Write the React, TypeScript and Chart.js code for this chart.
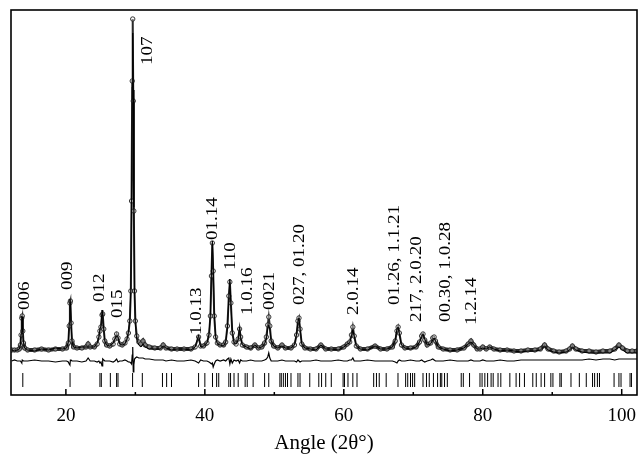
import React, { useEffect, useRef } from "react";
import { Chart, registerables } from "chart.js";

Chart.register(...registerables);

// 2θ positions of the measured profile (degrees)
const angles = [
  12.2, 12.6, 13.0, 13.3, 13.45, 13.55, 13.65, 13.72, 13.8, 13.9,
  14.05, 14.5, 15.5, 16.5, 17.5, 18.5, 19.5, 20.1, 20.35, 20.48,
  20.58, 20.65, 20.75, 20.88, 21.1, 21.6, 22.3, 22.9, 23.2, 23.5,
  24.1, 24.5, 24.75, 24.9, 25.05, 25.2, 25.3, 25.45, 25.6, 25.85,
  26.3, 26.8, 27.05, 27.3, 27.5, 27.75, 28.1, 28.5, 28.8, 29.0,
  29.2, 29.35, 29.45, 29.55, 29.62, 29.7, 29.78, 29.88, 30.0, 30.2,
  30.5, 30.8, 31.1, 31.4, 32.0, 32.8, 33.6, 34.0, 34.4, 35.2,
  36.0, 37.0, 38.0, 38.6, 39.1, 39.4, 39.8, 40.3, 40.6, 40.8,
  40.95, 41.08, 41.2, 41.35, 41.55, 41.8, 42.2, 42.7, 43.0, 43.25,
  43.45, 43.6, 43.75, 43.95, 44.2, 44.5, 44.8, 45.0, 45.15, 45.4,
  46.0, 46.6, 47.2, 47.7, 48.2, 48.6, 48.85, 49.05, 49.2, 49.35,
  49.55, 49.9, 50.5, 51.1, 51.6, 52.4, 52.9, 53.2, 53.4, 53.55,
  53.7, 53.95, 54.4, 55.2, 56.0, 56.7, 57.4, 58.2, 59.2, 60.0,
  60.5, 60.85, 61.1, 61.3, 61.5, 61.8, 62.4, 63.4, 64.5, 65.3,
  66.2, 67.0, 67.4, 67.65, 67.82, 68.0, 68.3, 68.8, 69.6, 70.4,
  70.9, 71.2, 71.4, 71.65, 72.0, 72.5, 72.8, 73.0, 73.2, 73.6,
  74.3, 75.3, 76.3, 77.3, 77.9, 78.3, 78.7, 79.2, 79.6, 80.0,
  80.5, 81.0, 81.6, 82.5, 83.5, 84.5, 85.5, 86.5, 87.5, 88.3,
  88.9, 89.4, 90.2, 91.0, 92.0, 92.5, 92.9, 93.4, 94.3, 95.3,
  96.3, 97.3, 98.3, 99.0, 99.6, 100.1, 100.8, 101.5, 102.2,
];

// observed intensity (arbitrary units above background)
const observed = [
  1, 1, 1, 2, 6, 16, 33, 35, 20, 8,
  3, 1, 1, 2, 1, 2, 2, 3, 8, 25,
  48, 50, 28, 10, 4, 3, 3, 4, 7, 4,
  4, 7, 14, 20, 24, 36, 37, 22, 10, 6,
  5, 7, 12, 17, 13, 7, 6, 8, 12, 18,
  30, 60, 150, 270, 332, 250, 140, 60, 30, 15,
  9, 7, 10, 6, 4, 3, 3, 6, 3, 2,
  2, 2, 2, 4, 14, 5, 5, 8, 16, 35,
  75, 108, 80, 35, 14, 8, 6, 6, 9, 25,
  55, 69, 48, 18, 9, 7, 12, 22, 14, 6,
  4, 3, 6, 3, 4, 8, 14, 26, 34, 25,
  10, 5, 3, 6, 3, 3, 6, 16, 30, 33,
  22, 7, 3, 2, 2, 6, 2, 2, 2, 4,
  7, 9, 16, 24, 15, 5, 2, 2, 5, 2,
  2, 4, 10, 20, 24, 18, 6, 3, 3, 4,
  9, 15, 17, 11, 6, 8, 13, 14, 10, 4,
  2, 1, 1, 3, 7, 10, 6, 2, 2, 4,
  2, 4, 2, 1, 1, 0, 0, 1, 1, 2,
  6, 2, 0, -1, 0, 2, 5, 2, 0, 0,
  -1, 0, 0, 2, 6, 3, 0, 0, 0,
];

// observed − calculated
const difference = [
  0, 1, 0, 0, 0, -1, -2, 1, 1, 0,
  0, 0, 1, 0, 0, -1, 0, 0, -1, -3,
  -4, 1, 1, 0, 0, 0, -1, 0, 3, 0,
  0, -1, 0, -2, -1, -5, 2, 1, 0, 0,
  0, -1, 0, 2, -1, 0, 0, 1, 0, -1,
  -1, -2, -3, 6, 14, -11, -4, 2, 3, 4,
  3, 3, 3, 2, 2, 1, 1, 1, 0, 1,
  0, 0, 1, 0, -2, 1, 0, 0, -1, -2,
  -3, -2, -6, -3, 0, 1, 0, 1, 0, 2,
  3, -3, 2, -2, 1, 0, 1, -2, 1, 0,
  0, 1, 0, 0, 0, 1, 2, 4, 8, 3,
  0, 0, 0, 1, 0, 0, 0, -1, 1, 0,
  -1, 0, 0, 0, 1, 0, 0, 0, 1, 0,
  0, 1, 1, 3, 0, 0, 0, 1, 0, 0,
  0, 0, -1, -2, 0, 1, 0, 0, 1, 0,
  0, 1, 0, -1, 0, 1, 2, 1, 0, 0,
  0, 1, 0, 0, 0, 1, 0, 0, 0, 1,
  0, 0, 0, 1, 0, 0, 1, 1, 1, 1,
  1, 1, 1, 1, 1, 1, 1, 1, 1, 2,
  1, 2, 2, 1, 2, 2, 2, 2, 2,
];

// Bragg reflection positions (degrees)
const braggPositions = [
  13.8, 20.6, 24.9, 25.1, 26.4, 27.3, 27.5, 29.6, 31.0, 33.9,
  34.5, 35.2, 39.1, 40.0, 41.1, 41.7, 42.0, 43.45, 43.7, 44.2,
  44.8, 45.8, 46.1, 46.95, 48.6, 49.2, 50.8, 51.0, 51.3, 51.6,
  51.9, 52.4, 53.4, 53.7, 55.1, 56.4, 56.8, 57.4, 58.2, 59.9,
  60.1, 60.6, 61.3, 61.9, 64.3, 64.7, 65.1, 66.1, 67.8, 68.9,
  69.2, 69.6, 69.9, 70.2, 71.4, 71.9, 72.3, 72.9, 73.5, 73.9,
  74.1, 74.5, 74.9, 76.9, 77.2, 78.1, 79.6, 79.9, 80.3, 80.7,
  81.2, 81.5, 82.2, 82.6, 83.9, 84.8, 85.3, 86.0, 87.2, 87.7,
  88.4, 88.9, 89.8, 90.1, 91.1, 91.3, 92.7, 93.9, 94.9, 95.8,
  96.1, 96.5, 96.8, 98.9, 99.6, 99.9, 101.2, 101.4,
];

const xTickLabels = [20, 40, 60, 80, 100];
const xMinorTicks = [30, 50, 70, 90];

const hklLabels = [
  "006", "009", "012", "015", "107", "1.0.13", "01.14", "110",
  "1.0.16", "0021", "027, 01.20", "2.0.14", "01.26, 1.1.21",
  "217, 2.0.20", "00.30, 1.0.28", "1.2.14",
];
const hklAngles = [
  14.1, 20.3, 24.9, 27.5, 31.8, 38.85, 41.15, 43.7,
  46.2, 49.35, 53.7, 61.4, 67.3, 70.5, 74.7, 78.4,
];
const hklHeights = [
  41, 61, 49, 33, 286, 16, 111, 81,
  36, 41, 46, 36, 46, 29, 29, 26,
];

const X_MIN = 12.1;
const X_MAX = 102.2;
const Y_MIN = -44;
const Y_MAX = 341;
const DIFF_OFFSET = -10;
const BRAGG_LEVEL = -29;

const decorPlugin = {
  id: "decor",
  afterDatasetsDraw(chart: any) {
    const { ctx, chartArea: a, scales } = chart;
    const x = scales.x;
    const y = scales.y;
    ctx.save();
    ctx.strokeStyle = "#000";
    ctx.lineWidth = 1.5;
    ctx.beginPath();
    for (const v of xTickLabels) {
      const px = x.getPixelForValue(v);
      ctx.moveTo(px, a.bottom);
      ctx.lineTo(px, a.bottom - 6);
    }
    for (const v of xMinorTicks) {
      const px = x.getPixelForValue(v);
      ctx.moveTo(px, a.bottom);
      ctx.lineTo(px, a.bottom - 3);
    }
    ctx.stroke();
    ctx.lineWidth = 1.6;
    ctx.strokeRect(a.left, a.top, a.right - a.left, a.bottom - a.top);

    ctx.fillStyle = "#000";
    ctx.font = '17px "Liberation Serif"';
    ctx.textAlign = "left";
    ctx.textBaseline = "middle";
    hklLabels.forEach((t, i) => {
      const px = x.getPixelForValue(hklAngles[i]);
      const py = y.getPixelForValue(hklHeights[i]);
      ctx.save();
      ctx.translate(px, py);
      ctx.rotate(-Math.PI / 2);
      ctx.scale(1.12, 1);
      ctx.fillText(t, 0, 0);
      ctx.restore();
    });
    ctx.restore();
  },
};

export default function App() {
  const canvasRef = useRef<HTMLCanvasElement | null>(null);

  useEffect(() => {
    const canvas = canvasRef.current;
    if (!canvas) return;
    const calcData = angles.map((a, i) => ({ x: a, y: observed[i] - difference[i] }));
    const obsData = angles.map((a, i) => ({ x: a, y: observed[i] }));
    const diffData = angles.map((a, i) => ({ x: a, y: DIFF_OFFSET + difference[i] }));
    const braggData = braggPositions.map((p) => ({ x: p, y: BRAGG_LEVEL }));

    const chart = new Chart(canvas, {
      type: "line",
      data: {
        datasets: [
          {
            label: "Calculated",
            data: calcData,
            borderColor: "#000",
            borderWidth: 1,
            pointRadius: 0,
            tension: 0,
          },
          {
            label: "Observed",
            data: obsData,
            borderColor: "#2a2a2a",
            borderWidth: 2,
            segment: {
              borderWidth: (c: any) =>
                Math.abs(c.p0.parsed.y) < 12 && Math.abs(c.p1.parsed.y) < 12 ? 4 : 2,
            },
            pointRadius: 2.2,
            pointBorderWidth: 0.9,
            pointBorderColor: "#222",
            pointBackgroundColor: "rgba(255,255,255,0.4)",
            tension: 0,
          },
          {
            label: "Difference",
            data: diffData,
            borderColor: "#000",
            borderWidth: 1.2,
            pointRadius: 0,
            tension: 0,
          },
          {
            label: "Bragg positions",
            data: braggData,
            showLine: false,
            pointStyle: "line",
            pointRotation: 90,
            pointRadius: 7,
            pointBorderWidth: 1,
            pointBorderColor: "#000",
            borderColor: "#000",
          },
        ],
      } as any,
      options: {
        animation: false,
        responsive: false,
        events: [],
        layout: { autoPadding: false, padding: { left: 11, right: 2, top: 10, bottom: 0 } },
        plugins: {
          legend: { display: false },
          tooltip: { enabled: false },
        },
        scales: {
          x: {
            type: "linear",
            min: X_MIN,
            max: X_MAX,
            grid: { display: false, drawTicks: false },
            border: { display: false },
            afterBuildTicks: (s: any) => {
              s.ticks = xTickLabels.map((v) => ({ value: v }));
            },
            afterFit: (s: any) => {
              s.height = 61;
              s.paddingLeft = 0;
              s.paddingRight = 0;
            },
            ticks: {
              padding: 10,
              autoSkip: false,
              maxRotation: 0,
              color: "#000",
              font: { family: '"Liberation Serif"', size: 19 },
            },
            title: {
              display: true,
              text: "Angle (2θ°)",
              color: "#000",
              font: { family: '"Liberation Serif"', size: 21 },
              padding: { top: 0, bottom: 0 },
            },
          },
          y: { display: false, min: Y_MIN, max: Y_MAX },
        },
      } as any,
      plugins: [decorPlugin],
    });
    return () => chart.destroy();
  }, []);

  return (
    <div style={{ position: "fixed", left: 0, top: 0, width: 639, height: 456, background: "#fff" }}>
      <canvas ref={canvasRef} width={639} height={456} style={{ display: "block" }} />
    </div>
  );
}
